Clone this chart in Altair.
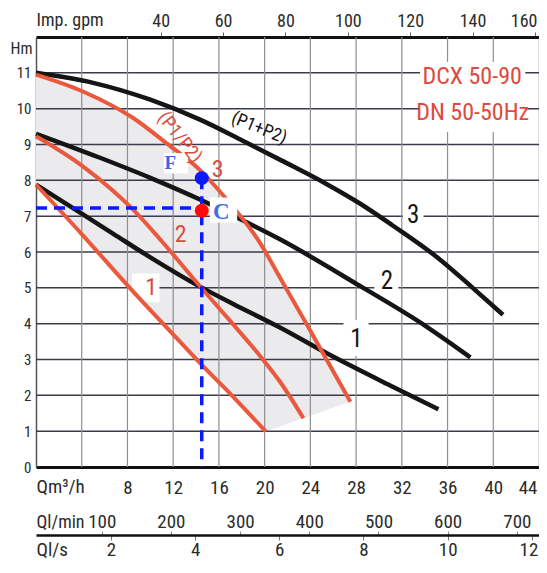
import altair as alt
import pandas as pd
import numpy as np

# ---------------- curve readings: Q [m3/h], H [m] ----------------
q_b1 = [0, 4.1, 6.8, 10, 14.3, 17.25, 21.3, 25.4, 31.2, 35.2]
h_b1 = [7.88, 7.05, 6.5, 5.85, 5.04, 4.55, 3.9, 3.18, 2.24, 1.61]
q_b2 = [0, 5.6, 10, 14.3, 17.2, 21.3, 28.3, 34.15, 38.0]
h_b2 = [9.3, 8.63, 8.07, 7.47, 7.02, 6.36, 5.06, 3.92, 3.06]
q_b3 = [0, 5, 10, 14.3, 18, 21.5, 25.4, 28.3, 31.2, 35.3, 38.2, 40.85]
h_b3 = [11.0, 10.72, 10.25, 9.7, 9.12, 8.55, 7.9, 7.36, 6.74, 5.8, 5.0, 4.25]
q_r1 = [0, 4.0, 8.2, 12, 14.5, 17.25, 20.1]
h_r1 = [7.88, 6.5, 5.0, 3.7, 2.85, 1.96, 0.99]
q_r2 = [0, 4.1, 8.5, 11.0, 14.3, 17.25, 19.6, 21.3, 23.4]
h_r2 = [9.23, 8.39, 7.18, 6.3, 5.06, 3.98, 3.1, 2.4, 1.36]
q_r3 = [0, 4.1, 8.5, 11.4, 14.3, 16.7, 19.4, 21.5, 23.95, 25.5, 27.5]
h_r3 = [10.95, 10.48, 9.74, 9.04, 8.3, 7.46, 6.35, 5.2, 3.83, 2.95, 1.82]

# ---------------- duty point ----------------
q_duty = 14.5
h_F = 8.06
h_C = 7.15
h_dash = 7.23

# ---------------- axis ticks ----------------
q_ticks = [4, 8, 12, 16, 20, 24, 28, 32, 36, 40, 44]
h_ticks = [0, 1, 2, 3, 4, 5, 6, 7, 8, 9, 10, 11]
h_grid = [1, 2, 3, 4, 5, 6, 7, 8, 9, 10, 11]
q_grid = [4, 8, 12, 16, 20, 24, 28, 32, 36, 40]
lmin_ticks = [100, 200, 300, 400, 500, 600, 700]
ls_ticks = [2, 4, 6, 8, 10, 12]
gpm_ticks = [40, 60, 80, 100, 120, 140, 160]
ft_ticks = [5, 10, 15, 20, 25, 30, 35]

# ---------------- labels ----------------
blk_lab = ["1", "2", "3"]
blk_lab_q = [28.03, 30.7, 33.0]
blk_lab_h = [3.58, 5.2, 7.02]
red_lab = ["1", "2", "3"]
red_lab_q = [10.08, 12.66, 15.9]
red_lab_h = [4.99, 6.48, 8.3]

# white boxes behind labels (q1, q2, h1, h2)
box_q1 = [26.9, 29.6, 32.1, 8.4, 33.6]
box_q2 = [29.1, 31.7, 33.9, 10.8, 42.8]
box_h1 = [3.1, 4.7, 6.55, 4.6, 9.35]
box_h2 = [4.1, 5.7, 7.5, 5.4, 11.3]
fc_q1 = [11.19, 15.21]
fc_q2 = [13.31, 17.6]
fc_h1 = [8.19, 6.82]
fc_h2 = [8.76, 7.52]

FONT = "Roboto Condensed, Liberation Sans Narrow, DejaVu Sans Condensed, Liberation Sans, sans-serif"
SERIF = "Liberation Serif, Times New Roman, serif"
TXT = "#2b2b2b"
BLACK = "#151515"
RED = "#ea593d"
REDTXT = "#dc4b3a"
BLUE = "#0a1aff"

XD = [0, 44]
YD = [0, 12]


def X(f, axis=None):
    return alt.X(f, type="quantitative", scale=alt.Scale(domain=XD, nice=False, zero=False), axis=axis)


def Y(f, axis=None):
    return alt.Y(f, type="quantitative", scale=alt.Scale(domain=YD, nice=False, zero=False), axis=axis)


# shaded region between red curve 1 and red curve 3
q_sh = np.array(sorted(set([q for q in q_r1 + q_r3 if q <= q_r3[-1]])))
hi = np.interp(q_sh, q_r3, h_r3)
lo = np.where(q_sh <= q_r1[-1], np.interp(q_sh, q_r1, h_r1),
              np.interp(q_sh, [q_r1[-1], q_r3[-1]], [h_r1[-1], h_r3[-1]]))
df_sh = pd.DataFrame({"Q": q_sh, "lo": lo, "hi": hi})

x_axis_main = alt.Axis(
    orient="bottom", values=q_ticks, labelExpr="datum.value == 4 ? '' : datum.label",
    grid=False, ticks=False, domainColor="#111", domainWidth=3,
    labelFont=FONT, labelFontSize=19, labelColor=TXT, labelBaseline="alphabetic",
    labelPadding=26, labelFlush=True, labelFlushOffset=-2, labelOverlap=False,
    title="Qm³/h", titleX=0, titleY=25, titleAlign="left", titleBaseline="alphabetic",
    titleFont=FONT, titleFontSize=19, titleFontWeight="normal", titleColor=TXT)
y_axis_main = alt.Axis(
    orient="left", values=h_ticks, grid=False, ticks=False, domainColor="#555",
    domainWidth=1.5, labelFont=FONT, labelFontSize=15, labelColor=TXT, labelPadding=5,
    labelFlush=False, labelOverlap=False,
    title="Hm", titleX=-4, titleY=16, titleAngle=0, titleAlign="right",
    titleBaseline="alphabetic", titleFont=FONT, titleFontSize=16,
    titleFontWeight="normal", titleColor=TXT)

area = alt.Chart(df_sh).mark_area(color="#ebebed").encode(
    x=X("Q:Q", axis=x_axis_main),
    y=Y("lo:Q", axis=y_axis_main),
    y2="hi:Q")

hgrid = alt.Chart(pd.DataFrame({"H": h_grid})).mark_rule(
    color="#3b3b4b", strokeWidth=1.5).encode(y=Y("H"))
vgrid = alt.Chart(pd.DataFrame({"Q": q_grid})).mark_rule(
    color="#8e8e8e", strokeWidth=1.2).encode(x=X("Q"))

boxes = alt.Chart(pd.DataFrame({"q1": box_q1, "q2": box_q2, "h1": box_h1, "h2": box_h2})
                  ).mark_rect(color="white").encode(
    x=X("q1"), x2="q2", y=Y("h1"), y2="h2")


def curves(qs, hs, names):
    rows = []
    for q, h, n in zip(qs, hs, names):
        for a, b in zip(q, h):
            rows.append({"Q": a, "H": b, "s": n})
    return pd.DataFrame(rows)


df_blk = curves([q_b1, q_b2, q_b3], [h_b1, h_b2, h_b3], ["b1", "b2", "b3"])
df_red = curves([q_r1, q_r2, q_r3], [h_r1, h_r2, h_r3], ["r1", "r2", "r3"])

blk = alt.Chart(df_blk).mark_line(color=BLACK, strokeWidth=4.5, interpolate="monotone").encode(
    x=X("Q"), y=Y("H"), detail="s:N")
red = alt.Chart(df_red).mark_line(color=RED, strokeWidth=4, interpolate="monotone").encode(
    x=X("Q"), y=Y("H"), detail="s:N")

dash_h = alt.Chart(pd.DataFrame({"q0": [0], "q1": [q_duty], "h": [h_dash]})).mark_rule(
    color=BLUE, strokeWidth=3.5, strokeDash=[11, 7]).encode(x=X("q0"), x2="q1", y=Y("h"))
dash_v = alt.Chart(pd.DataFrame({"q": [q_duty], "h0": [h_F], "h1": [0]})).mark_rule(
    color=BLUE, strokeWidth=3.5, strokeDash=[11, 7]).encode(x=X("q"), y=Y("h0"), y2="h1")

fcbox = alt.Chart(pd.DataFrame({"q1": fc_q1, "q2": fc_q2, "h1": fc_h1, "h2": fc_h2})
                  ).mark_rect(color="white").encode(
    x=X("q1"), x2="q2", y=Y("h1"), y2="h2")

pts = alt.Chart(pd.DataFrame({"Q": [q_duty, q_duty], "H": [h_F, h_C], "c": ["F", "C"]})
                ).mark_circle(size=195, opacity=1).encode(
    x=X("Q"), y=Y("H"),
    color=alt.Color("c:N", scale=alt.Scale(domain=["F", "C"], range=[BLUE, "#ff0a0a"]), legend=None))

t_blk = alt.Chart(pd.DataFrame({"Q": blk_lab_q, "H": blk_lab_h, "t": blk_lab})).mark_text(
    font=FONT, fontSize=25, color=BLACK).encode(x=X("Q"), y=Y("H"), text="t:N")
t_red = alt.Chart(pd.DataFrame({"Q": red_lab_q, "H": red_lab_h, "t": red_lab})).mark_text(
    font=FONT, fontSize=24, color=REDTXT).encode(x=X("Q"), y=Y("H"), text="t:N")
t_plus = alt.Chart(pd.DataFrame({"Q": [19.5], "H": [9.45], "t": ["(P1+P2)"]})).mark_text(
    font=FONT, fontSize=18, color=BLACK, angle=22).encode(x=X("Q"), y=Y("H"), text="t:N")
t_slash = alt.Chart(pd.DataFrame({"Q": [12.59], "H": [9.2], "t": ["(P1/P2)"]})).mark_text(
    font=FONT, fontSize=19, color=REDTXT, angle=52).encode(x=X("Q"), y=Y("H"), text="t:N")
t_model = alt.Chart(pd.DataFrame({"Q": [38.15, 38.2], "H": [10.88, 9.88],
                                  "t": ["DCX 50-90", "DN 50-50Hz"]})).mark_text(
    font=FONT, fontSize=24, color="#e04a3c").encode(x=X("Q"), y=Y("H"), text="t:N")
t_F = alt.Chart(pd.DataFrame({"Q": [11.74], "H": [8.49], "t": ["F"]})).mark_text(
    font=SERIF, fontSize=19, fontWeight="bold", color="#3a64e6").encode(x=X("Q"), y=Y("H"), text="t:N")
t_C = alt.Chart(pd.DataFrame({"Q": [16.2], "H": [7.13], "t": ["C"]})).mark_text(
    font=SERIF, fontSize=23, fontWeight="bold", color="#3f6ee8").encode(x=X("Q"), y=Y("H"), text="t:N")

# ---------------- secondary axes ----------------
lmin_lab = alt.Chart(pd.DataFrame({"v": lmin_ticks})).mark_point(opacity=0).encode(
    x=alt.X("v:Q", scale=alt.Scale(domain=[5, 732], nice=False, zero=False),
            axis=alt.Axis(orient="bottom", offset=0, values=lmin_ticks, ticks=False, domain=False,
                          grid=False, labelPadding=60, labelBaseline="alphabetic", labelFont=FONT,
                          labelFontSize=19, labelColor=TXT, labelFlush=False, labelOverlap=False,
                          title="Ql/min", titleX=0, titleY=60, titleAlign="left",
                          titleBaseline="alphabetic", titleFont=FONT, titleFontSize=18,
                          titleFontWeight="normal", titleColor=TXT)))
lmin_tk = alt.Chart(pd.DataFrame({"w": lmin_ticks})).mark_point(opacity=0).encode(
    x=alt.X("w:Q", scale=alt.Scale(domain=[5, 732], nice=False, zero=False),
            axis=alt.Axis(orient="bottom", offset=64, values=lmin_ticks, ticks=True, tickSize=4,
                          tickColor="#888", domain=False, grid=False, labels=False, title=None)))
ls_ax = alt.Chart(pd.DataFrame({"s": ls_ticks})).mark_point(opacity=0).encode(
    x=alt.X("s:Q", scale=alt.Scale(domain=[0.22, 12.17], nice=False, zero=False),
            axis=alt.Axis(orient="bottom", offset=68, values=ls_ticks, domainColor="#111",
                          domainWidth=2.5, tickSize=5, tickColor="#777", grid=False,
                          labelPadding=15, labelBaseline="alphabetic", labelFont=FONT,
                          labelFontSize=19, labelColor=TXT, labelFlush=10, labelFlushOffset=6,
                          labelOverlap=False,
                          title="Ql/s", titleX=0, titleY=20, titleAlign="left",
                          titleBaseline="alphabetic", titleFont=FONT, titleFontSize=19,
                          titleFontWeight="normal", titleColor=TXT)))
gpm_ax = alt.Chart(pd.DataFrame({"g": gpm_ticks})).mark_point(opacity=0).encode(
    x=alt.X("g:Q", scale=alt.Scale(domain=[0, 161.31], nice=False, zero=False),
            axis=alt.Axis(orient="top", values=gpm_ticks, domainColor="#111", domainWidth=3,
                          tickSize=5, tickColor="#666", grid=False, labelPadding=6,
                          labelBaseline="alphabetic", labelFont=FONT, labelFontSize=18,
                          labelColor=TXT, labelFlush=10, labelFlushOffset=2, labelOverlap=False,
                          title="Imp. gpm", titleX=0, titleY=-12, titleAlign="left",
                          titleBaseline="alphabetic", titleFont=FONT, titleFontSize=18,
                          titleFontWeight="normal", titleColor=TXT)))
ft_ax = alt.Chart(pd.DataFrame({"f": ft_ticks})).mark_point(opacity=0).encode(
    y=alt.Y("f:Q", scale=alt.Scale(domain=[0, 39.37], nice=False, zero=False),
            axis=alt.Axis(orient="right", values=ft_ticks, domainColor="#777", domainWidth=1.5,
                          tickSize=4, tickColor="#555", grid=False, labels=False, title=None)))

chart = alt.layer(
    area, hgrid, vgrid, boxes, blk, red, dash_h, dash_v, fcbox, pts,
    t_blk, t_red, t_plus, t_slash, t_model, t_F, t_C,
    lmin_lab, lmin_tk, ls_ax, gpm_ax, ft_ax
).resolve_scale(
    x="independent", y="independent", color="independent"
).properties(
    width=503, height=430,
    autosize=alt.AutoSizeParams(type="none"),
    padding={"left": 28, "top": 29, "right": 0, "bottom": 94},
    background="white",
).configure_view(stroke=None)

chart.save("out.html", embed_options={"renderer": "svg", "actions": False})
